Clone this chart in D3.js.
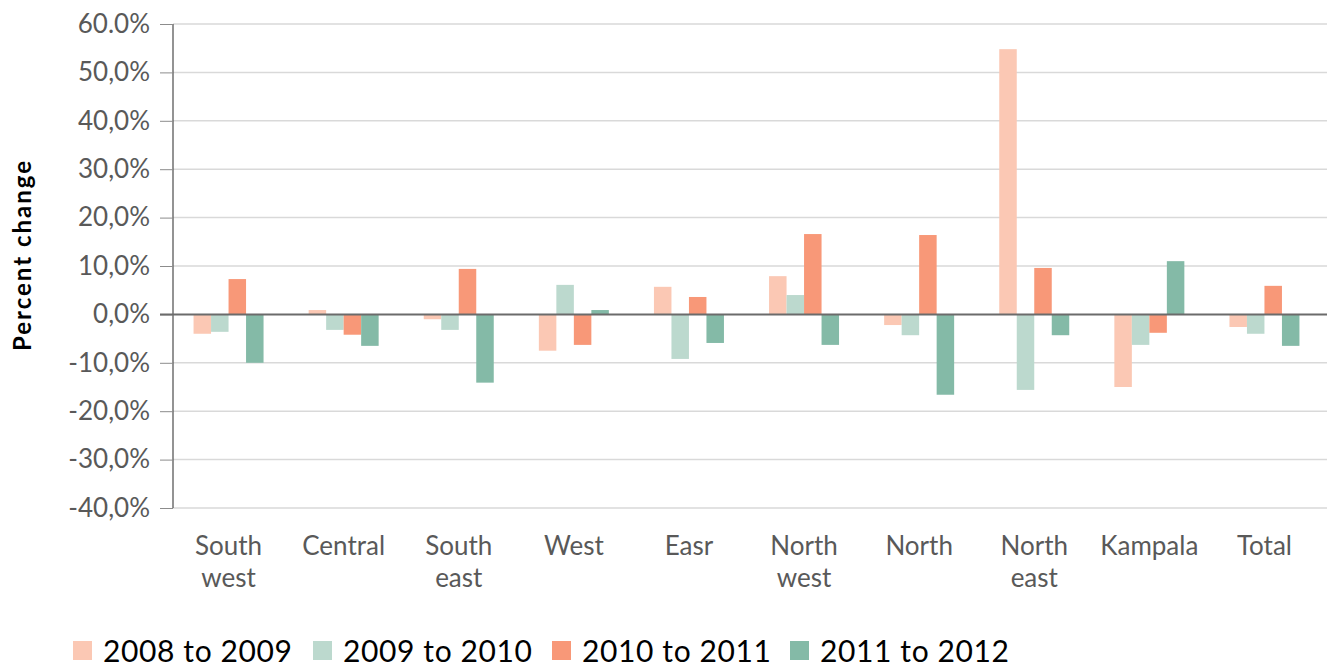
<!DOCTYPE html>
<html><head><meta charset="utf-8">
<script src="https://cdn.jsdelivr.net/npm/d3@7"></script>
<style>body{margin:0;background:#fff}svg{display:block}</style>
</head><body>
<svg id="c" width="1332" height="668"></svg>
<script>
const categories = [["South","west"],["Central"],["South","east"],["West"],["Easr"],["North","west"],["North"],["North","east"],["Kampala"],["Total"]];
const seriesNames = ["2008 to 2009","2009 to 2010","2010 to 2011","2011 to 2012"];
const s2008_2009 = [-4.0, 0.9, -1.0, -7.5, 5.7, 7.9, -2.2, 54.8, -15.0, -2.6];
const s2009_2010 = [-3.6, -3.2, -3.2, 6.1, -9.2, 4.0, -4.3, -15.6, -6.3, -4.0];
const s2010_2011 = [7.3, -4.2, 9.4, -6.3, 3.6, 16.6, 16.4, 9.6, -3.8, 5.9];
const s2011_2012 = [-10.0, -6.5, -14.1, 0.9, -5.9, -6.3, -16.6, -4.3, 11.0, -6.5];
const tickValues = [60,50,40,30,20,10,0,-10,-20,-30,-40];
const tickLabels = ["60.0%","50,0%","40,0%","30,0%","20,0%","10,0%","0,0%","-10,0%","-20,0%","-30,0%","-40,0%"];
const colors = ["#FBC8B4","#BCD9CE","#F89878","#84BAA7"];
const series = [s2008_2009, s2009_2010, s2010_2011, s2011_2012];

const font = "Lato, 'Noto Sans', sans-serif";
const svg = d3.select("#c");
const x0 = 173, x1 = 1327;
const y = d3.scaleLinear().domain([-40,60]).range([508,24]);
const xb = d3.scaleBand().domain(d3.range(categories.length)).range([171,1322]).paddingInner(0).paddingOuter(0);
const groupW = 70;
const xs = d3.scaleBand().domain(d3.range(4)).range([0,groupW]);

// gridlines
svg.append("g").selectAll("line").data(tickValues.filter(v=>v!==0)).join("line")
  .attr("x1",x0).attr("x2",x1).attr("y1",d=>y(d)).attr("y2",d=>y(d))
  .attr("stroke","#d9d9d9").attr("stroke-width",1.5);

// y axis
const yAxis = d3.axisLeft(y).tickValues(tickValues).tickSize(13).tickPadding(10)
  .tickFormat((d,i)=>tickLabels[i]);
const ga = svg.append("g").attr("transform",`translate(${x0},0)`).call(yAxis);
ga.select(".domain").attr("stroke","#595959").attr("stroke-width",1.3).attr("d",`M0,${y(60)}V${y(-40)}`);
ga.selectAll(".tick line").attr("stroke","#8c8c8c").attr("stroke-width",1);
ga.selectAll(".tick text").attr("fill","#595959").style("font-family",font).style("font-size","26px");

// bars
const g = svg.append("g");
categories.forEach((c,i)=>{
  const gx = xb(i) + (xb.bandwidth()-groupW)/2;
  series.forEach((s,j)=>{
    const v = s[i];
    g.append("rect").attr("x",gx+xs(j)).attr("width",xs.bandwidth())
      .attr("y",y(Math.max(0,v))).attr("height",Math.abs(y(v)-y(0)))
      .attr("fill",colors[j]);
  });
});

// zero line
svg.append("line").attr("x1",160).attr("x2",x1).attr("y1",y(0)).attr("y2",y(0))
  .attr("stroke","#6b6b6b").attr("stroke-width",2);

// category labels
const cl = svg.append("g");
categories.forEach((c,i)=>{
  const cx = xb(i)+xb.bandwidth()/2;
  const t = cl.append("text").attr("x",cx).attr("y",555)
    .attr("text-anchor","middle").attr("fill","#595959").style("font-family",font).style("font-size","26px");
  c.forEach((line,k)=>t.append("tspan").attr("x",cx).attr("dy",k===0?0:32).text(line));
});

// y title
svg.append("text").attr("transform","translate(31,256) rotate(-90)").attr("text-anchor","middle")
  .attr("textLength",190).attr("lengthAdjust","spacing")
  .style("font-family",font).style("font-size","24px").style("font-weight","bold").attr("fill","#000").text("Percent change");

// legend
const legendX = [73,313,552,790];
const lg = svg.append("g");
seriesNames.forEach((n,j)=>{
  lg.append("rect").attr("x",legendX[j]).attr("y",641).attr("width",19).attr("height",19).attr("fill",colors[j]);
  lg.append("text").attr("x",legendX[j]+30).attr("y",662).attr("textLength",189).attr("lengthAdjust","spacing")
    .style("font-family",font).style("font-size","30px").attr("fill","#000").text(n);
});
</script>
</body></html>
